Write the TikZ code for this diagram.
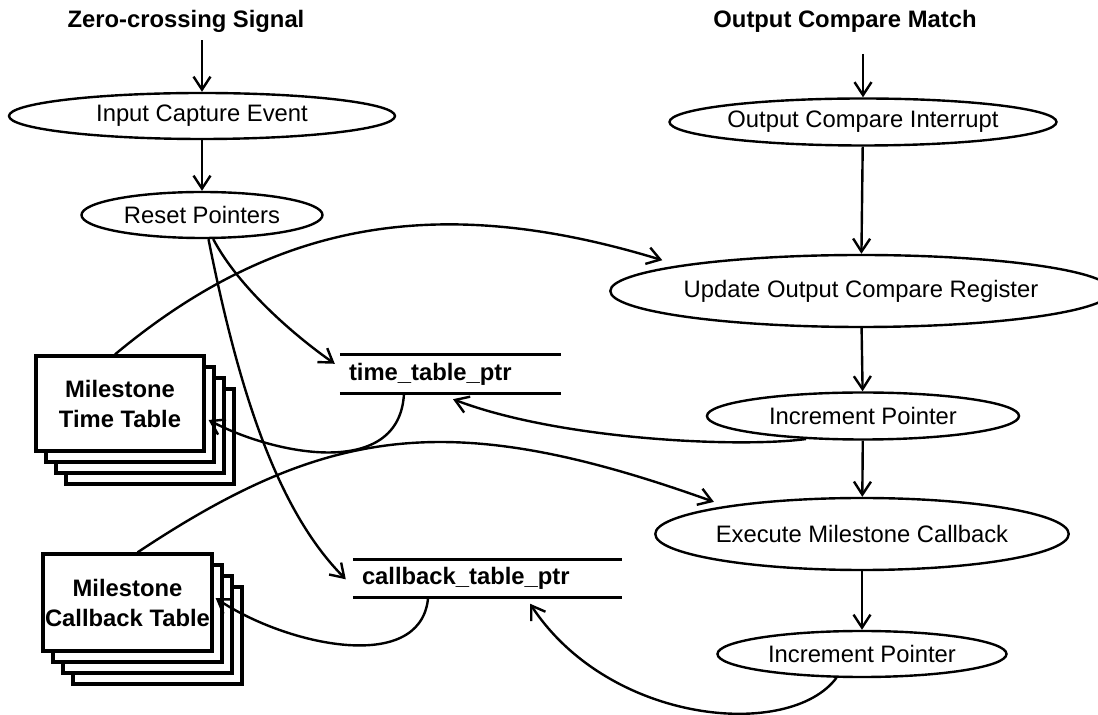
\documentclass[tikz,border=0pt]{standalone}
\usepackage{fontspec}
\setmainfont{Liberation Sans}
\usetikzlibrary{shapes.geometric,arrows.meta,calc}

\begin{document}
\begin{tikzpicture}[x=0.5pt, y=-0.5pt, line width=1.2pt,
  font=\fontsize{11.9pt}{15pt}\selectfont,
  >={Straight Barb[length=6.5pt,width=8.5pt]},
  event/.style={ellipse, draw, inner sep=0pt},
  headtext/.style={font=\fontsize{11.9pt}{15pt}\selectfont\bfseries},
  ptr/.style={rectangle, inner xsep=4pt, inner ysep=0pt, minimum height=18pt, align=left, font=\fontsize{11.9pt}{15pt}\selectfont\bfseries},
  tablebox/.style={rectangle, draw, fill=white, line width=1.6pt, minimum width=84pt, minimum height=47.5pt, align=center, inner sep=0pt, font=\fontsize{11.9pt}{15pt}\selectfont\bfseries}]
\useasboundingbox (0,0) rectangle (1098,715);

% input capture side
\node[headtext] (zc) at (186,21) {Zero-crossing Signal};
\node[event, minimum width=193pt, minimum height=23pt] (ice) at (202,116) {Input Capture Event};
\node[event, minimum width=120.5pt, minimum height=23pt] (rst) at (202,215) {Reset Pointers};

% output compare side
\node[headtext] (ocm) at (845,21) {Output Compare Match};
\node[event, minimum width=193.5pt, minimum height=23.5pt] (oci) at (863,122) {Output Compare Interrupt};
\node[event, minimum width=236pt, minimum height=36pt] (upd) at (861,291) {Update Output Compare Register};
\node[event, minimum width=156pt, minimum height=23.5pt] (inc1) at (863,416) {Increment Pointer};
\node[event, minimum width=204.5pt, minimum height=36pt] (exe) at (862,534) {Execute Milestone Callback};
\node[event, minimum width=144.5pt, minimum height=23pt] (inc2) at (862,654) {Increment Pointer};

% pointers
\node[ptr, text width=101.5pt] (tptr) at (450.5,374) {time\_table\_ptr};
\draw[line width=1.6pt] (tptr.north west) -- (tptr.north east) (tptr.south west) -- (tptr.south east);
\node[ptr, text width=125.5pt] (cptr) at (487.5,578.5) {callback\_table\_ptr};
\draw[line width=1.6pt] (cptr.north west) -- (cptr.north east) (cptr.south west) -- (cptr.south east);

% tables
\foreach \i in {3,2,1}
  \node[tablebox] (ttab\i) at (120+10*\i,403.5+11*\i) {};
\node[tablebox] (ttab) at (120,403.5) {Milestone\\Time Table};
\foreach \i in {3,2,1}
  \node[tablebox, minimum width=84.5pt, minimum height=48.5pt] (ctab\i) at (127.5+10*\i,602.5+11*\i) {};
\node[tablebox, minimum width=84.5pt, minimum height=48.5pt] (ctab) at (127.5,602.5) {Milestone\\Callback Table};

\draw[->] (ice |- zc.south) -- (ice);
\draw[->] (ice) -- (rst);
\draw[->] ([yshift=-7pt]oci |- ocm.south) -- (oci);
\draw[->] (oci) -- (upd);
\draw[->] (upd) -- (inc1);
\draw[->] (inc1) -- (exe);
\draw[->] (exe) -- (inc2);

\draw[->] (rst.-65) .. controls (239,288) and (295,336) .. ($(tptr.north west)+(-5,9)$);
\draw[->] (rst.-75) .. controls (238,387) and (276,509) .. ($(cptr.north west)+(-7,20)$);
\draw[->] ($(ttab.north)+(-5,0)$) .. controls (268,227) and (429,189) .. ($(upd.173)+(-5,-7)$);
\draw[->] ($(ctab.north)+(10,0)$) .. controls (329,425) and (452,408) .. ($(exe.170)+(0,-6)$);
\draw[->] ($(tptr.south)+(-46.5,0)$) .. controls (400,480) and (275,455) .. ($(ttab.east)+(3,16.5)$);
\draw[->] (inc1.-158) .. controls (740,448) and (560,440) .. ($(tptr.south)+(2.5,6)$);
\draw[->] ($(cptr.south)+(-59.5,1)$) .. controls (420,675) and (285,645) .. ($(ctab.east)+(2,-4.5)$);
\draw[->] (inc2.-137.5) .. controls (790,740) and (610,725) .. ($(cptr.south)+(42.5,6)$);
\end{tikzpicture}
\end{document}
